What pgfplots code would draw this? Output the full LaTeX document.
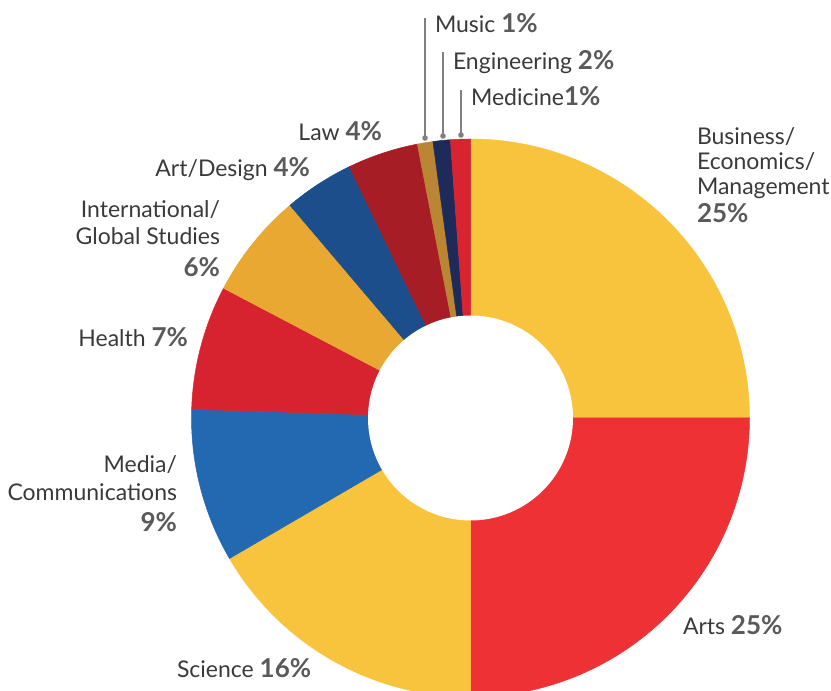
\documentclass[border=0pt]{standalone}
\usepackage{pgfplots}
\pgfplotsset{compat=1.18}
\usepackage{pgfplotstable}
\usepackage{fontspec}
\setmainfont{Lato}

\definecolor{cBiz}{HTML}{F8C43E}
\definecolor{cArts}{HTML}{EE3135}
\definecolor{cSci}{HTML}{F8C43E}
\definecolor{cMed}{HTML}{2369B2}
\definecolor{cHea}{HTML}{D6232F}
\definecolor{cInt}{HTML}{E8A832}
\definecolor{cArt}{HTML}{1B4E8B}
\definecolor{cLaw}{HTML}{A71D25}
\definecolor{cMus}{HTML}{BA8633}
\definecolor{cEng}{HTML}{1D2A5A}
\definecolor{cMedi}{HTML}{D72430}
\definecolor{cName}{HTML}{3A3A3A}
\definecolor{cPct}{HTML}{5A5A5A}
\definecolor{cLead}{HTML}{808080}

\newcommand\pc[1]{\textcolor{cPct}{\fontsize{13}{15}\selectfont\bfseries #1}}

\pgfplotstableread{
name value color
Business 25 cBiz
Arts 25 cArts
Science 16.6 cSci
Media 8.9 cMed
Health 7.2 cHea
Intl 6.1 cInt
ArtDesign 4.05 cArt
Law 4.1 cLaw
Music 0.9 cMus
Engineering 1.0 cEng
Medicine 1.15 cMedi
}\slices

\begin{document}
\begin{tikzpicture}[lbl/.style={font=\fontsize{11.5}{14}\selectfont, text=cName, inner sep=0pt, outer sep=0pt}]
\begin{axis}[x=0.5pt, y=0.5pt, xmin=0, xmax=831, ymin=0, ymax=691,
  hide axis, scale only axis]
\addplot[draw=none] coordinates {(0,0) (831,691)};
\pgfplotsextra{
  \gdef\cum{90}
  \pgfplotstablegetrowsof{\slices}
  \pgfmathtruncatemacro\last{\pgfplotsretval-1}
  \foreach \i in {0,...,\last}{
    \pgfplotstablegetelem{\i}{value}\of{\slices}\let\v\pgfplotsretval
    \pgfplotstablegetelem{\i}{color}\of{\slices}\let\c\pgfplotsretval
    \pgfmathsetmacro\a{\cum}
    \pgfmathsetmacro\b{\cum-3.6*\v}
    \pgfmathsetmacro\ox{470.5+279*cos(\a)}
    \pgfmathsetmacro\oy{273+279*sin(\a)}
    \filldraw[fill=\c, draw=\c, line width=0.25pt, line join=round] (axis cs:470.5,273) -- (axis cs:\ox,\oy) arc[start angle=\a, end angle=\b, radius=139.5pt] -- cycle;
    \xdef\cum{\b}
  }
  \fill[white] (axis cs:470.5,273) circle[radius=51.25pt];
}
% leader lines
\draw[cLead, line width=0.6pt] (axis cs:425,673) -- (axis cs:425,553);
\draw[cLead, line width=0.6pt] (axis cs:443,639) -- (axis cs:443,555);
\draw[cLead, line width=0.6pt] (axis cs:461,601) -- (axis cs:461,556);
\fill[cLead] (axis cs:425,553) circle[radius=1.4pt];
\fill[cLead] (axis cs:443,555) circle[radius=1.4pt];
\fill[cLead] (axis cs:461,556) circle[radius=1.4pt];
% labels
\node[lbl, anchor=base west] at (axis cs:435,658) {Music \pc{1\%}};
\node[lbl, anchor=base west] at (axis cs:453,621) {Engineering \pc{2\%}};
\node[lbl, anchor=base west] at (axis cs:471,585) {Medicine\pc{1\%}};
\node[lbl, anchor=base east] at (axis cs:382,550) {Law \pc{4\%}};
\node[lbl, anchor=base east] at (axis cs:310,514) {Art/Design \pc{4\%}};
\node[lbl, anchor=base east] at (axis cs:220,473) {International/};
\node[lbl, anchor=base east] at (axis cs:220,446) {Global Studies};
\node[lbl, anchor=base east] at (axis cs:220,414) {\pc{6\%}};
\node[lbl, anchor=base east] at (axis cs:188,344) {Health \pc{7\%}};
\node[lbl, anchor=base east] at (axis cs:177,218) {Media/};
\node[lbl, anchor=base east] at (axis cs:177,190) {Communications};
\node[lbl, anchor=base east] at (axis cs:177,159) {\pc{9\%}};
\node[lbl, anchor=base west] at (axis cs:177,13) {Science \pc{16\%}};
\node[lbl, anchor=base west] at (axis cs:683,56) {Arts \pc{25\%}};
\node[lbl, anchor=base west] at (axis cs:697,546) {Business/};
\node[lbl, anchor=base west] at (axis cs:697,521) {Economics/};
\node[lbl, anchor=base west] at (axis cs:697,496) {Management};
\node[lbl, anchor=base west] at (axis cs:697,468) {\pc{25\%}};
\end{axis}
\end{tikzpicture}
\end{document}
